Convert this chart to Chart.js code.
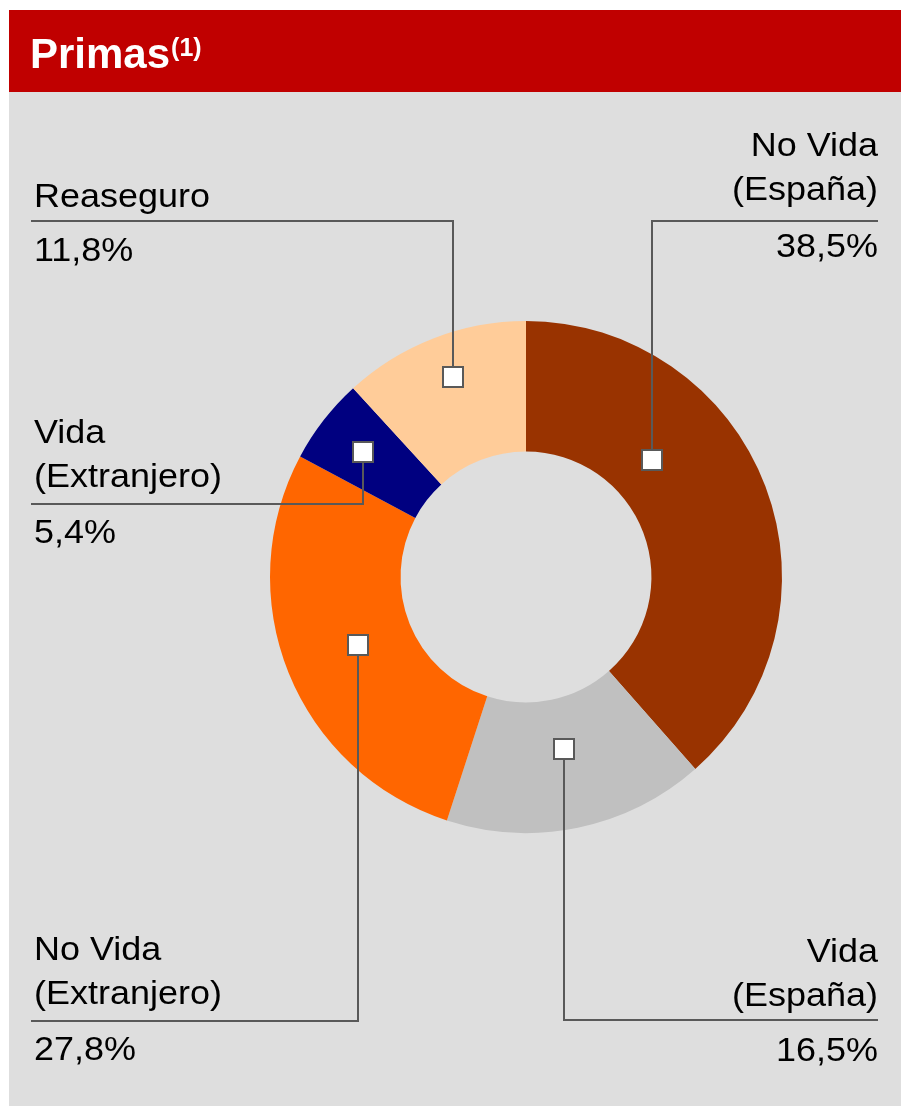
<!DOCTYPE html>
<html>
<head>
<meta charset="utf-8">
<script src="https://cdn.jsdelivr.net/npm/chart.js@4.4.1/dist/chart.umd.min.js"></script>
<style>
  html, body { margin: 0; padding: 0; background: #fff; }
  #wrap { position: relative; width: 901px; height: 1107px; }
  canvas { display: block; }
</style>
</head>
<body>
<div id="wrap"><canvas id="c" width="901" height="1107"></canvas></div>
<script>
// data
const labels = [['No Vida', '(España)'], ['Vida', '(España)'], ['No Vida', '(Extranjero)'], ['Vida', '(Extranjero)'], ['Reaseguro']];
const shares = [38.5, 16.5, 27.8, 5.4, 11.8];
const colors = ['#993300', '#c0c0c0', '#ff6600', '#000080', '#ffcc99'];

// where each callout square sits inside its slice, and where its label goes
const callouts = [
  { at: 0.34, r: 0.36, lineY: 221, side: 'right', nameDy: -21, valDy: 36 },
  { at: 0.49, r: 0.39, lineY: 1020, side: 'right', nameDy: -14, valDy: 41 },
  { at: 0.50, r: 0.43, lineY: 1021, side: 'left', nameDy: -17, valDy: 39 },
  { at: 0.48, r: 0.61, lineY: 504, side: 'left', nameDy: -17, valDy: 39 },
  { at: 0.53, r: 0.67, lineY: 221, side: 'left', nameDy: -14, valDy: 40 },
];

const FONT = '"Liberation Sans", Arial, sans-serif';
const fmt = v => v.toFixed(1).replace('.', ',') + '%';

function stretchedText(ctx, txt, x, y, align) {
  ctx.save();
  ctx.translate(x, y);
  ctx.scale(1.09, 1);
  ctx.textAlign = align;
  ctx.fillText(txt, 0, 0);
  ctx.restore();
}

const frame = {
  id: 'frame',
  beforeDraw(chart) {
    const ctx = chart.ctx;
    ctx.save();
    ctx.fillStyle = '#ffffff';
    ctx.fillRect(0, 0, 901, 1107);
    ctx.fillStyle = '#dedede';
    ctx.fillRect(9, 10, 892, 1096);
    ctx.fillStyle = '#c00000';
    ctx.fillRect(9, 10, 892, 82);
    ctx.fillStyle = '#ffffff';
    ctx.textBaseline = 'alphabetic';
    ctx.font = 'bold 42px ' + FONT;
    ctx.fillText('Primas', 30, 68);
    const w = ctx.measureText('Primas').width;
    ctx.font = 'bold 25px ' + FONT;
    ctx.fillText('(1)', 30 + w + 1, 56);
    ctx.restore();
  },
  afterDraw(chart) {
    const ctx = chart.ctx;
    const arcs = chart.getDatasetMeta(0).data;
    ctx.save();
    ctx.strokeStyle = '#595959';
    ctx.lineWidth = 2;
    const pts = arcs.map((arc, i) => {
      const p = arc.getProps(['x', 'y', 'startAngle', 'endAngle', 'innerRadius', 'outerRadius'], true);
      const c = callouts[i];
      const a = p.startAngle + c.at * (p.endAngle - p.startAngle);
      const r = p.innerRadius + c.r * (p.outerRadius - p.innerRadius);
      return { x: Math.round(p.x + r * Math.cos(a)), y: Math.round(p.y + r * Math.sin(a)) };
    });
    // leader lines
    pts.forEach((pt, i) => {
      const c = callouts[i];
      const endX = c.side === 'right' ? 878 : 31;
      ctx.beginPath();
      ctx.moveTo(pt.x, pt.y);
      ctx.lineTo(pt.x, c.lineY);
      ctx.lineTo(endX, c.lineY);
      ctx.stroke();
    });
    // squares
    pts.forEach(pt => {
      ctx.fillStyle = '#ffffff';
      ctx.fillRect(pt.x - 10, pt.y - 10, 20, 20);
      ctx.strokeRect(pt.x - 10, pt.y - 10, 20, 20);
    });
    // texts
    ctx.fillStyle = '#000000';
    ctx.font = '33px ' + FONT;
    ctx.textBaseline = 'alphabetic';
    chart.data.labels.forEach((lines, i) => {
      const c = callouts[i];
      const x = c.side === 'right' ? 878 : 34;
      const align = c.side === 'right' ? 'right' : 'left';
      const last = c.lineY + c.nameDy;
      lines.forEach((ln, k) => {
        stretchedText(ctx, ln, x, last - (lines.length - 1 - k) * 44, align);
      });
      stretchedText(ctx, fmt(chart.data.datasets[0].data[i]), x, c.lineY + c.valDy, align);
    });
    ctx.restore();
  }
};

new Chart(document.getElementById('c'), {
  type: 'doughnut',
  data: {
    labels: labels,
    datasets: [{
      data: shares,
      backgroundColor: colors,
      borderWidth: 0,
      hoverOffset: 0,
    }],
  },
  options: {
    responsive: false,
    animation: false,
    events: [],
    cutout: '49%',
    layout: { padding: { left: 270, top: 321, right: 119, bottom: 274 } },
    plugins: {
      legend: { display: false },
      tooltip: { enabled: false },
    },
  },
  plugins: [frame],
});
</script>
</body>
</html>
